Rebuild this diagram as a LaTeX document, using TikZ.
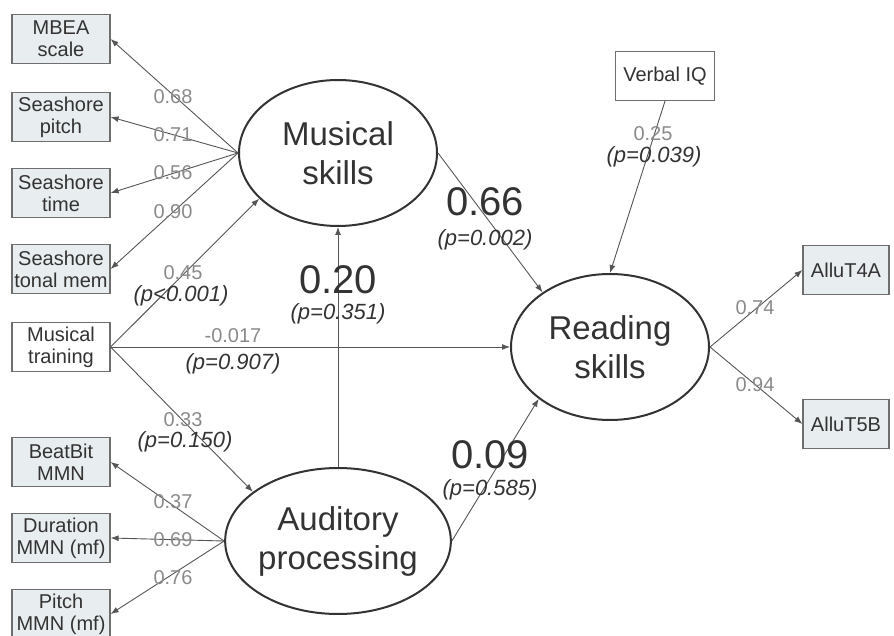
\documentclass[tikz,border=0pt]{standalone}
\usepackage{fontspec}
\setmainfont{Liberation Sans}
\usetikzlibrary{positioning,shapes.geometric,arrows.meta}
\definecolor{boxfill}{HTML}{E8EDEF}
\definecolor{boxline}{HTML}{6E6E6E}
\definecolor{linegray}{HTML}{555555}
\definecolor{lblgray}{HTML}{8A8A8A}
\definecolor{txtdark}{HTML}{333333}
\tikzset{
  indbox/.style={rectangle, draw=boxline, fill=boxfill, line width=1.2pt, minimum width=98pt, minimum height=49pt, inner sep=0pt, align=center, text=txtdark, font=\fontsize{20}{22}\selectfont},
  obsbox/.style={indbox, fill=white},
  latent/.style={ellipse, draw=txtdark, line width=2pt, minimum width=198pt, minimum height=146pt, inner sep=0pt, align=center, text=txtdark, font=\fontsize{33}{39}\selectfont},
  arr/.style={draw=linegray, line width=0.9pt, -{Latex[length=8pt,width=6pt]}},
  load/.style={text=lblgray, inner sep=0pt, font=\fontsize{20}{22}\selectfont},
  coef/.style={text=txtdark, inner sep=0pt, font=\fontsize{40}{44}\selectfont},
  pval/.style={text=txtdark, inner sep=0pt, font=\fontsize{22}{24}\selectfont\itshape},
}
\begin{document}
\begin{tikzpicture}[x=1pt,y=-1pt]
	\useasboundingbox (0,0) rectangle (894,636);
	
	% observed variables on the left
	\node[indbox] (mbea) at (61,39) {MBEA\\scale};
	\node[indbox] (spitch) at (61,117) {Seashore\\pitch};
	\node[indbox] (stime) at (61,193) {Seashore\\time};
	\node[indbox] (stonal) at (61,269) {Seashore\\tonal mem};
	\node[obsbox] (train) at (61,347) {Musical\\training};
	\node[indbox] (beat) at (61,462) {BeatBit\\MMN};
	\node[indbox] (dur) at (61,538) {Duration\\MMN (mf)};
	\node[indbox] (pmmn) at (61,614) {Pitch\\MMN (mf)};
	
	% latent variables
	\node[latent] (mus) at (338,153) {Musical\\skills};
	\node[latent] (read) at (610,347) {Reading\\skills};
	\node[latent] (aud) at (338,541) {Auditory\\processing};
	
	% right side
	\node[obsbox, minimum width=99pt] (viq) at (665,76) {Verbal IQ};
	\node[indbox, minimum width=86pt] (allu4) at (846,270) {AlluT4A};
	\node[indbox, minimum width=86pt] (allu5) at (846,424) {AlluT5B};
	
	% connectors
	\draw[arr] (mus.west) -- (mbea.east);
	\draw[arr] (mus.west) -- (spitch.east);
	\draw[arr] (mus.west) -- (stime.east);
	\draw[arr] (mus.west) -- (stonal.east);
	\draw[arr] (aud.west) -- (beat.east);
	\draw[arr] (aud.west) -- (dur.east);
	\draw[arr] (aud.west) -- (pmmn.east);
	\draw[arr] (train.east) -- (mus.210);
	\draw[arr] (train.east) -- (read.west);
	\draw[arr] (train.east) -- (aud.150);
	\draw[arr] (aud.north) -- (mus.south);
	\draw[arr] (mus.east) -- (read.141);
	\draw[arr] (aud.east) -- (read.216);
	\draw[arr] (viq.south) -- (read.north);
	\draw[arr] (read.east) -- (allu4.west);
	\draw[arr] (read.east) -- (allu5.west);
	
	% loadings
	\node[load] (l68) at (173,97) {0.68};
	\node[load] (l71) at (173,135) {0.71};
	\node[load] (l56) at (173,173) {0.56};
	\node[load] (l90) at (173,212) {0.90};
	\node[load] (l37) at (173,502) {0.37};
	\node[load] (l69) at (173,540) {0.69};
	\node[load] (l76) at (173,578) {0.76};
	\node[load] (l74) at (755,308) {0.74};
	\node[load] (l94) at (755,385) {0.94};
	
	% path coefficients
	\node[load] (l45) at (183,273) {0.45};
	\node[pval, shift={(-2,23)}] (p45) at (l45.center) {(p<0.001)};
	\node[load] (l017) at (233,336) {-0.017};
	\node[pval, shift={(0,28)}] (p017) at (l017.center) {(p=0.907)};
	\node[load] (l33) at (183,420) {0.33};
	\node[pval, shift={(2,22)}] (p33) at (l33.center) {(p=0.150)};
	\node[load] (l25) at (653,134) {0.25};
	\node[pval, shift={(1,23)}] (p25) at (l25.center) {(p=0.039)};
	\node[coef] (c20) at (338,280) {0.20};
	\node[pval, shift={(0,34)}] (p20) at (c20.center) {(p=0.351)};
	\node[coef] (c66) at (485,202) {0.66};
	\node[pval, shift={(0,38)}] (p66) at (c66.center) {(p=0.002)};
	\node[coef] (c09) at (490,455) {0.09};
	\node[pval, shift={(0,35)}] (p09) at (c09.center) {(p=0.585)};
\end{tikzpicture}
\end{document}
